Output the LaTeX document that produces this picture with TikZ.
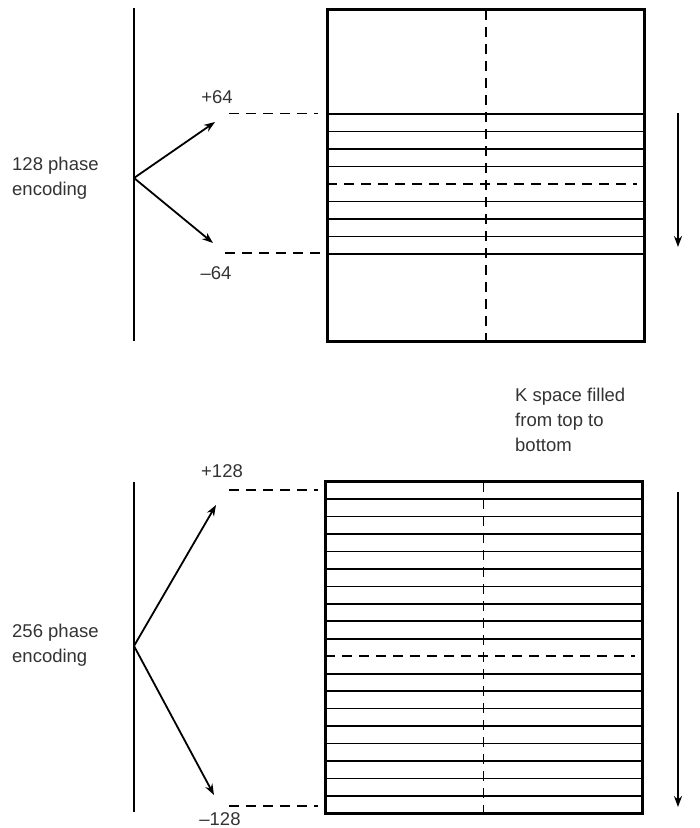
\documentclass[tikz,border=0pt]{standalone}
\usepackage{fontspec}
\setmainfont{Liberation Sans}
\usetikzlibrary{arrows.meta}
\begin{document}
\begin{tikzpicture}[x=1pt,y=-1pt,
  lbl/.style={text=black!80, font=\fontsize{18.5}{25}\selectfont, inner sep=0pt, align=left},
  frame/.style={line width=3pt},
  row/.style={line width=1.7pt},
  mid/.style={line width=1.7pt, dash pattern=on 10pt off 7pt},
  arr/.style={line width=1.8pt, -{Stealth[length=11pt,width=8pt]}},
  axis/.style={line width=1.8pt}]
\useasboundingbox (0,0) rectangle (700,828);

% ---------- top panel ----------
\draw[axis] (134,8) -- (134,341);
\coordinate (o1) at (134,178);
\coordinate (p1) at (215,122);
\coordinate (m1) at (213,243);
\draw[arr] (o1) -- (p1);
\draw[arr] (o1) -- (m1);
\coordinate (d1a) at (229,113.5); \coordinate (d1b) at (318,113.5);
\coordinate (d2a) at (225,253);   \coordinate (d2b) at (327,253);
\draw[mid] (d1a) -- (d1b);
\draw[mid] (d2a) -- (d2b);
\foreach \y in {114,131.5,149,166.5,201.5,219,236.5,254}
  \draw[row] (327,\y) -- (644,\y);
\draw[mid] (327,184) -- (637,184);
\draw[mid] (486,10) -- (486,340);
\draw[frame] (327,9.5) rectangle (644,341);
\coordinate (r1a) at (678,113); \coordinate (r1b) at (678,247);
\draw[arr] (r1a) -- (r1b);
\node[lbl] (t64) at (217,97) {+64};
\node[lbl] (b64) at (216,273) {–64};
\node[lbl, anchor=west] (enc1) at (12,178) {128 phase\\encoding};

% ---------- bottom panel ----------
\draw[axis] (134,482) -- (134,812);
\coordinate (o2) at (134,646);
\coordinate (p2) at (216,505);
\coordinate (m2) at (214,795);
\draw[arr] (o2) -- (p2);
\draw[arr] (o2) -- (m2);
\coordinate (e1a) at (229,490); \coordinate (e1b) at (318,490);
\coordinate (e2a) at (229,806); \coordinate (e2b) at (318,806);
\draw[mid] (e1a) -- (e1b);
\draw[mid] (e2a) -- (e2b);
\foreach \k in {1,...,9,11,12,...,18}
  \draw[row] (325,481.7+\k*17.45) -- (642,481.7+\k*17.45);
\draw[mid] (325,656) -- (635,656);
\draw[mid] (483.5,482) -- (483.5,812);
\draw[frame] (325,481.7) rectangle (642,813.3);
\coordinate (r2a) at (678,492); \coordinate (r2b) at (678,807);
\draw[arr] (r2a) -- (r2b);
\node[lbl] (t128) at (222,471) {+128};
\node[lbl] (b128) at (220,819) {–128};
\node[lbl, anchor=west] (enc2) at (12,645) {256 phase\\encoding};
\node[lbl, anchor=west] (kspace) at (515,420) {K space filled\\from top to\\bottom};
\end{tikzpicture}
\end{document}
